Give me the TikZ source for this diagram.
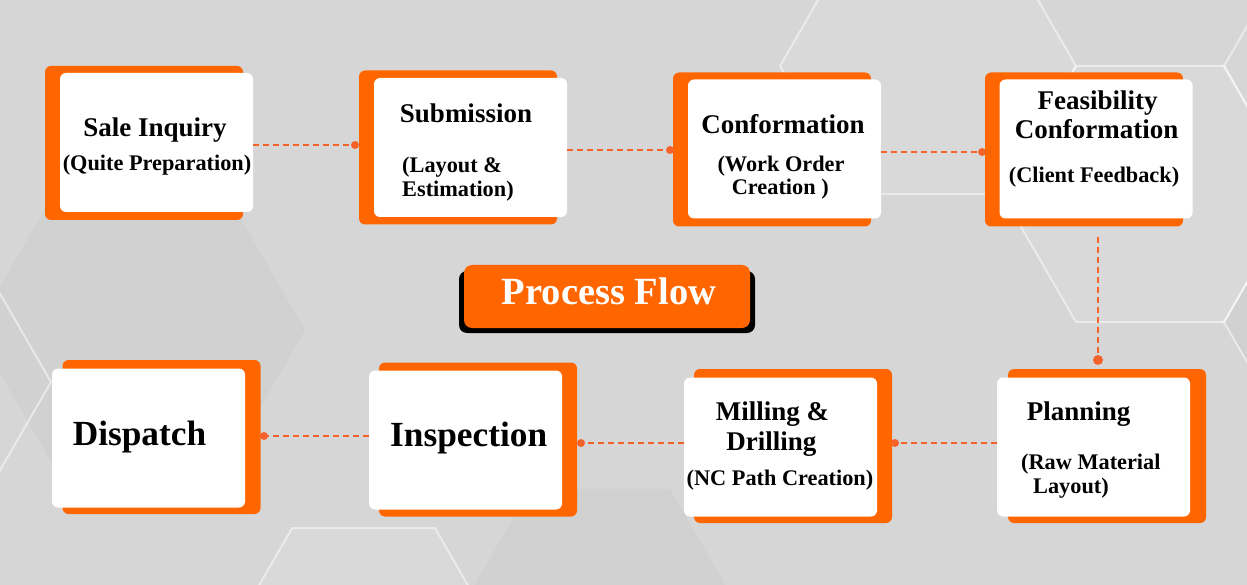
\documentclass[tikz,border=0pt]{standalone}
\usepackage{fontspec}
\setmainfont{Liberation Serif}
\usetikzlibrary{calc}
\definecolor{bg}{HTML}{D6D6D6}
\definecolor{boxor}{HTML}{FF6600}
\definecolor{lineor}{HTML}{F5622A}
\tikzset{
 obox/.style={fill=boxor, rounded corners=6pt, minimum width=198pt, minimum height=154pt, inner sep=0pt, draw=none},
 wbox/.style={fill=white, rounded corners=6pt, minimum width=193pt, minimum height=139pt, inner sep=0pt},
 ttl/.style={font=\fontsize{27}{29}\selectfont\bfseries, anchor=base, inner sep=0pt},
 sub/.style={font=\fontsize{22.3}{24}\selectfont\bfseries, anchor=base, inner sep=0pt},
 big/.style={font=\fontsize{35.3}{37}\selectfont\bfseries, anchor=base, inner sep=0pt},
 conn/.style={draw=lineor, line width=1.8pt, dash pattern=on 6pt off 4pt},
 dotc/.style={circle, fill=lineor, inner sep=0pt, minimum size=8pt},
 hexline/.style={draw=white, draw opacity=0.5, line width=2pt},
 hexlight/.style={fill=white, fill opacity=0.08},
 hexdark/.style={fill=black, fill opacity=0.02},
}
\newcommand{\hexpath}[3]{(#1,#2) ++(0:#3) -- ++(120:#3) -- ++(180:#3) -- ++(240:#3) -- ++(300:#3) -- ++(0:#3) -- cycle}
\begin{document}
\begin{tikzpicture}[x=1pt,y=-1pt]
\useasboundingbox (0,0) rectangle (1247,585);
\fill[bg] (0,0) rectangle (1247,585);
\begin{scope}
\clip (0,0) rectangle (1247,585);
% background hexagons
\fill[hexlight] \hexpath{928}{66}{148};
\fill[hexlight] \hexpath{1150}{194}{148};
\fill[hexdark] \hexpath{140}{330}{165};
\fill[hexdark] \hexpath{600}{610}{140};
\fill[hexlight] \hexpath{363.5}{652}{143};
\fill[hexdark] \hexpath{1372}{322}{148};
\draw[hexline] \hexpath{1150}{194}{148};
\draw[hexline] \hexpath{928}{66}{148};
\draw[hexline] \hexpath{1372}{66}{148};
\draw[hexline] \hexpath{-79}{382}{130};
\draw[hexline] \hexpath{363.5}{652}{143};
\draw[hexline] \hexpath{1372}{322}{148};
\end{scope}

% orange backing boxes
\node[obox] (o1) at (144,143) {};
\node[obox] (o2) at (458,147.5) {};
\node[obox] (o3) at (772,149.5) {};
\node[obox] (o4) at (1084,149.5) {};
\node[obox] (o5) at (1107,446) {};
\node[obox] (o6) at (793,446) {};
\node[obox] (o7) at (478,439.5) {};
\node[obox] (o8) at (161.5,437) {};

% white boxes
\node[wbox] (w1) at (156.5,142.5) {};
\node[wbox] (w2) at (470.5,147.5) {};
\node[wbox] (w3) at (784.5,149) {};
\node[wbox] (w4) at (1096,149) {};
\node[wbox] (w5) at (1093.5,447) {};
\node[wbox] (w6) at (780.5,447) {};
\node[wbox] (w7) at (465.5,440) {};
\node[wbox] (w8) at (148.5,438) {};

% connector end points
\coordinate (p1) at (355,145);
\coordinate (p2) at (670,150);
\coordinate (p3) at (982,152);
\coordinate (p4) at (1098,360);
\coordinate (p5) at (895,443);
\coordinate (p6) at (581,443);
\coordinate (p7) at (264,436);

\draw[conn] (w1.east |- p1) -- (p1);
\draw[conn] (w2.east |- p2) -- (p2);
\draw[conn] (w3.east |- p3) -- (p3);
\draw[conn] ($(o4.south -| p4)+(0,10)$) -- (p4);
\draw[conn] (w5.west |- p5) -- (p5);
\draw[conn] (w6.west |- p6) -- (p6);
\draw[conn] (w7.west |- p7) -- (p7);

\node[dotc] (d1) at (p1) {};
\node[dotc] (d2) at (p2) {};
\node[dotc] (d3) at (p3) {};
\node[dotc, minimum size=10pt] (d4) at (p4) {};
\node[dotc] (d5) at (p5) {};
\node[dotc] (d6) at (p6) {};
\node[dotc] (d7) at (p7) {};

% texts
\node[ttl] (t1a) at (155,136.7) {Sale Inquiry};
\node[sub] (t1b) at (157,170.7) {(Quite Preparation)};
\node[ttl] (t2a) at (466,122.7) {Submission};
\node[sub, anchor=base west] (t2b) at (402,172.7) {(Layout \&};
\node[sub, anchor=base west] (t2c) at (402,196.7) {Estimation)};
\node[ttl] (t3a) at (783,133.3) {Conformation};
\node[sub] (t3b) at (781,171.7) {(Work Order};
\node[sub] (t3c) at (780.3,195) {Creation )};
\node[ttl] (t4a) at (1097.5,110) {Feasibility};
\node[ttl] (t4b) at (1096.7,138.3) {Conformation};
\node[sub] (t4c) at (1094,182.7) {(Client Feedback)};
\node[ttl, anchor=base west] (t5a) at (1026.7,420) {Planning};
\node[sub, anchor=base west] (t5b) at (1021,469.3) {(Raw Material};
\node[sub, anchor=base west] (t5c) at (1033,493.3) {Layout)};
\node[ttl] (t6a) at (772.5,420) {Milling \&};
\node[ttl] (t6b) at (771.3,450) {Drilling};
\node[sub] (t6c) at (780,485) {(NC Path Creation)};
\node[big] (t7) at (468.7,446.7) {Inspection};
\node[big] (t8) at (139.5,445) {Dispatch};

% title badge
\node[fill=black, rounded corners=8pt, minimum width=296pt, minimum height=62pt, inner sep=0pt] (pfs) at (607,302) {};
\node[fill=boxor, rounded corners=8pt, minimum width=286pt, minimum height=63pt, inner sep=0pt] (pf) at (607,296.5) {};
\node[font=\fontsize{38.5}{41}\selectfont\bfseries, text=white, anchor=base, inner sep=0pt] (pft) at (609,305) {Process Flow};
\end{tikzpicture}
\end{document}
